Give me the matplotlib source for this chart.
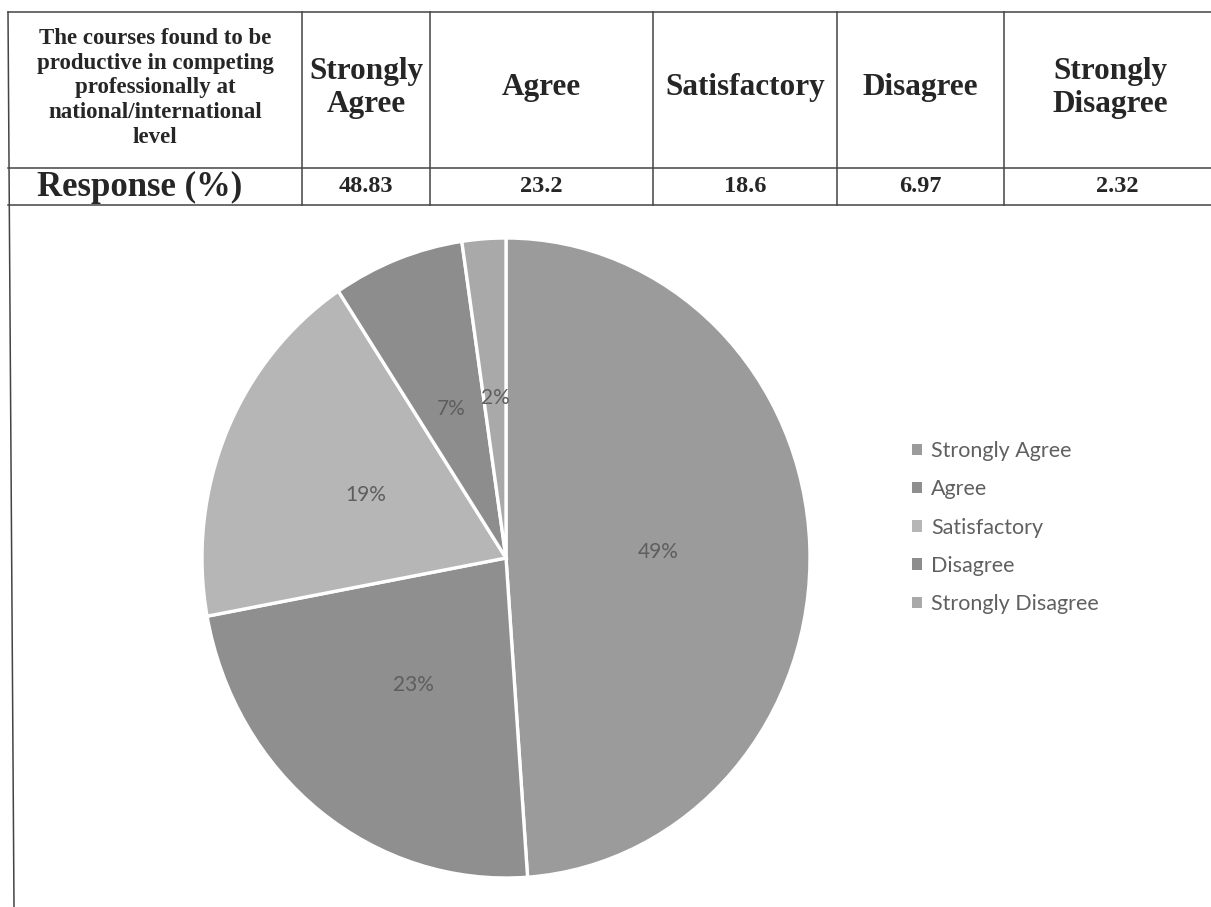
import matplotlib
matplotlib.use("Agg")
import matplotlib.pyplot as plt
from matplotlib.lines import Line2D
from matplotlib.patches import Rectangle

# ---- data ----
categories = ["Strongly Agree", "Agree", "Satisfactory", "Disagree", "Strongly Disagree"]
header_labels = ["Strongly\nAgree", "Agree", "Satisfactory", "Disagree", "Strongly\nDisagree"]
responses = [48.83, 23.2, 18.6, 6.97, 2.32]
response_text = ["48.83", "23.2", "18.6", "6.97", "2.32"]
question = "The courses found to be\nproductive in competing\nprofessionally at\nnational/international\nlevel"
row_label = "Response (%)"
colors = ["#9b9b9b", "#8f8f8f", "#b6b6b6", "#8d8d8d", "#a9a9a9"]

W, H = 1211, 907
fig = plt.figure(figsize=(W / 100, H / 100), dpi=100)

# full-figure overlay in pixel coordinates for the table
bg = fig.add_axes([0, 0, 1, 1])
bg.set_xlim(0, W)
bg.set_ylim(H, 0)
bg.axis("off")

col_x = [8, 302, 430, 653, 837, 1004, 1240]
y_top, y_mid, y_bot = 12, 168, 205
lc = "#444444"
lw = 1.1
for y in (y_top, y_mid, y_bot):
    bg.add_line(Line2D([col_x[0], W], [y, y], color=lc, lw=lw))
for x in col_x[1:-1]:
    bg.add_line(Line2D([x, x], [y_top, y_bot], color=lc, lw=lw))
bg.add_line(Line2D([8, 14], [y_top, H], color=lc, lw=lw))

serif = "Liberation Serif"
bg.text(155, 88, question, ha="center", va="center", fontsize=16.5,
        family=serif, weight="bold", color="#262626", linespacing=1.22)
centers = [366, 541, 745, 920, 1110]
for cx, lab in zip(centers, header_labels):
    bg.text(cx, 88, lab, ha="center", va="center", fontsize=22.5,
            family=serif, weight="bold", color="#262626", linespacing=1.2)
bg.text(140, 187, row_label, ha="center", va="center", fontsize=25,
        family=serif, weight="bold", color="#262626")
val_centers = [366, 541, 745, 920, 1117]
for cx, t in zip(val_centers, response_text):
    bg.text(cx, 187, t, ha="center", va="center", fontsize=17.5,
            family=serif, weight="bold", color="#262626")

# ---- pie ----
cx, cy, rx, ry = 506, 558, 304, 320
pax = fig.add_axes([(cx - rx) / W, 1 - (cy + ry) / H, 2 * rx / W, 2 * ry / H])
wedges, texts, autotexts = pax.pie(
    responses, colors=colors, startangle=90, counterclock=False,
    autopct=lambda p: f"{p:.0f}%", pctdistance=0.5,
    wedgeprops=dict(edgecolor="white", linewidth=2.4),
    textprops=dict(fontsize=15, family="Lato", color="#5e5e5e"))
pax.set_aspect("auto")
pax.set_xlim(-1, 1)
pax.set_ylim(-1, 1)
pax.axis("off")

# ---- legend ----
handles = [Rectangle((0, 0), 1, 1, facecolor=c, edgecolor="none") for c in colors]
leg = fig.legend(handles, categories, loc="upper left",
                 bbox_to_anchor=(912 / W, 1 - 441 / H), frameon=False,
                 prop=dict(family="Lato", size=15.5), labelcolor="#606060",
                 handlelength=0.45, handleheight=0.45, handletextpad=0.45,
                 labelspacing=0.85, borderaxespad=0, borderpad=0)

fig.savefig("out.png", dpi=100, facecolor="white")
